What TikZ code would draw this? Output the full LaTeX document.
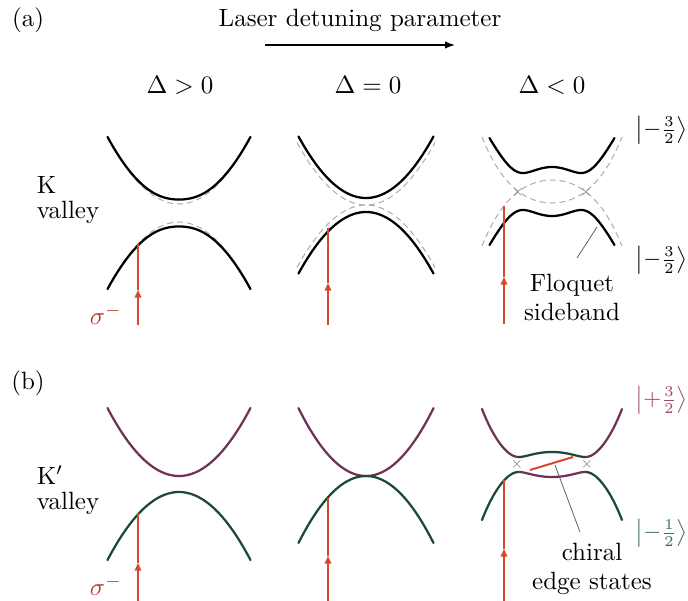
\documentclass[tikz,border=0pt]{standalone}
\usepackage{amsmath}
\usetikzlibrary{arrows.meta,positioning}
\definecolor{laserred}{RGB}{214,72,48}
\definecolor{sigred}{RGB}{182,62,46}
\definecolor{bandpurple}{RGB}{112,50,88}
\definecolor{bandgreen}{RGB}{28,74,52}
\definecolor{ketpurple}{RGB}{160,72,112}
\definecolor{ketgreen}{RGB}{58,108,88}

\begin{document}
\begin{tikzpicture}[x=0.4pt, y=-0.4pt,
    lbl/.style={inner sep=0pt, font=\fontsize{10}{10}\selectfont},
    ket/.style={inner sep=0pt, anchor=east, font=\fontsize{9}{9}\selectfont},
    note/.style={lbl, align=center, font=\fontsize{10}{11.6}\selectfont},
    band/.style={line width=0.9pt, line cap=round},
    bare/.style={gray!65, dash pattern=on 2.4pt off 1.6pt, line width=0.4pt},
    laser/.style={laserred, line width=0.6pt},
    pointer/.style={gray!70!black, line width=0.3pt},
    cross/.style={inner sep=0pt, gray, font=\fontsize{4}{4}\selectfont}
  ]
  \useasboundingbox (0,0) rectangle (688,601);

  % headings
  \node[lbl] (tag-a) at (28,20) {(a)};
  \node[lbl] (tag-b) at (28,383) {(b)};
  \node[lbl] (detuning) at (360,20) {Laser detuning parameter};
  \coordinate (detune-l) at (265,45);
  \coordinate (detune-r) at (455,45);
  \draw[line width=0.6pt, -{Latex[length=4pt,width=3pt]}] (detune-l) -- (detune-r);
  \node[lbl] (dpos) at (180,85) {$\Delta>0$};
  \node[lbl] (dzero) at (368,85) {$\Delta=0$};
  \node[lbl] (dneg) at (552,85) {$\Delta<0$};
  \node[lbl, align=left] (kvalley) at (68,200) {K\\valley};
  \node[lbl, align=left] (kpvalley) at (68,490) {K$'$\\valley};
  \node[lbl, text=sigred] (sigma-a) at (106,315) {$\sigma^-$};
  \node[lbl, text=sigred] (sigma-b) at (106,586) {$\sigma^-$};

  % (a) K valley, bare bands dashed, dressed bands solid
  \draw[bare] plot[domain=-71.5:71.5, samples=61, smooth] ({179+\x},{204-0.013*\x*\x});
  \draw[bare] plot[domain=-71.5:71.5, samples=61, smooth] ({179+\x},{222+0.013*\x*\x});
  \draw[band] plot[domain=-71.5:71.5, samples=61, smooth] ({179+\x},{213-sqrt(100+(9+0.013*\x*\x)^2)});
  \draw[band] plot[domain=-71.5:71.5, samples=61, smooth] ({179+\x},{213+sqrt(100+(9+0.013*\x*\x)^2)});

  \draw[bare] plot[domain=-69:69, samples=61, smooth] ({366+\x},{205-0.0131*\x*\x});
  \draw[bare] plot[domain=-69:69, samples=61, smooth] ({366+\x},{205+0.0131*\x*\x});
  \draw[band] plot[domain=-67.5:67.5, samples=61, smooth] ({366+\x},{198-0.0135*\x*\x});
  \draw[band] plot[domain=-67.5:67.5, samples=61, smooth] ({366+\x},{212+0.0135*\x*\x});

  \draw[bare] plot[domain=-1:1, samples=61, smooth] ({552+70*\x},{203-45.5*\x*\x-20.5*\x*\x*\x*\x});
  \draw[bare] plot[domain=-1:1, samples=61, smooth] ({552+70*\x},{180+45.5*\x*\x+20.5*\x*\x*\x*\x});
  \draw[band] plot[domain=-1:1, samples=81, smooth] ({552+62.5*\x},{191.5-sqrt(342.25+(76.9*\x*\x-10.6*\x*\x*\x*\x-16.06)^2)});
  \draw[band] plot[domain=-1:1, samples=81, smooth] ({552+62.5*\x},{191.5+sqrt(342.25+(76.9*\x*\x-10.6*\x*\x*\x*\x-16.06)^2)});
  \node[cross] (xa-l) at (518,192) {$\times$};
  \node[cross] (xa-r) at (586,192) {$\times$};

  \node[ket] (ket-a1) at (688,130) {$\bigl|-\tfrac{3}{2}\bigr\rangle$};
  \node[ket] (ket-a2) at (688,260) {$\bigl|-\tfrac{3}{2}\bigr\rangle$};
  \node[note] (floquet) at (572,297) {Floquet\\sideband};
  \coordinate (floquet-tip) at (597,227);
  \coordinate (floquet-end) at (577,258);
  \draw[pointer] (floquet-tip) -- (floquet-end);

  % (b) K' valley, coloured by spin character
  \draw[band, bandpurple] plot[domain=-71.5:71.5, samples=61, smooth] ({179+\x},{476-0.0133*\x*\x});
  \draw[band, bandgreen] plot[domain=-71.5:71.5, samples=61, smooth] ({179+\x},{492+0.0133*\x*\x});

  \draw[band, bandpurple] plot[domain=-67.5:67.5, samples=61, smooth] ({366+\x},{476-0.0149*\x*\x});
  \draw[band, bandgreen] plot[domain=-67.5:67.5, samples=61, smooth] ({366+\x},{476+0.0147*\x*\x});

  \draw[band, bandpurple] plot[domain=-1:-0.471, samples=31, smooth] ({552+70*\x},{464.5-sqrt(56.25+(39.3*\x*\x+25.7*\x*\x*\x*\x-10)^2)});
  \draw[band, bandpurple] plot[domain=0.471:1, samples=31, smooth] ({552+70*\x},{464.5-sqrt(56.25+(39.3*\x*\x+25.7*\x*\x*\x*\x-10)^2)});
  \draw[band, bandgreen] plot[domain=-0.471:0.471, samples=31, smooth] ({552+70*\x},{464.5-sqrt(56.25+(39.3*\x*\x+25.7*\x*\x*\x*\x-10)^2)});
  \draw[band, bandgreen] plot[domain=-1:-0.471, samples=31, smooth] ({552+70*\x},{464.5+sqrt(56.25+(39.3*\x*\x+25.7*\x*\x*\x*\x-10)^2)});
  \draw[band, bandgreen] plot[domain=0.471:1, samples=31, smooth] ({552+70*\x},{464.5+sqrt(56.25+(39.3*\x*\x+25.7*\x*\x*\x*\x-10)^2)});
  \draw[band, bandpurple] plot[domain=-0.471:0.471, samples=31, smooth] ({552+70*\x},{464.5+sqrt(56.25+(39.3*\x*\x+25.7*\x*\x*\x*\x-10)^2)});
  \node[cross] (xb-l) at (517,464.5) {$\times$};
  \node[cross] (xb-r) at (587,464.5) {$\times$};

  \coordinate (edge-l) at (530,470);
  \coordinate (edge-r) at (573,457);
  \draw[laser, line width=0.8pt] (edge-l) -- (edge-r);
  \node[note] (chiral) at (592,569) {chiral\\edge states};
  \coordinate (chiral-tip) at (555,465);
  \coordinate (chiral-end) at (580,532);
  \draw[pointer] (chiral-tip) -- (chiral-end);

  \node[ket, text=ketpurple] (ket-b1) at (688,400) {$\bigl|+\tfrac{3}{2}\bigr\rangle$};
  \node[ket, text=ketgreen] (ket-b2) at (688,533) {$\bigl|-\tfrac{1}{2}\bigr\rangle$};

  % pump photons
  \coordinate (a1-bot) at (138,325); \coordinate (a1-mid) at (138,290); \coordinate (a1-top) at (138,244);
  \coordinate (a2-bot) at (328,325); \coordinate (a2-mid) at (328,283); \coordinate (a2-top) at (328,228);
  \coordinate (a3-bot) at (504,324); \coordinate (a3-mid) at (504,277); \coordinate (a3-top) at (504,206);
  \coordinate (b1-bot) at (138,601); \coordinate (b1-mid) at (138,563); \coordinate (b1-top) at (138,513);
  \coordinate (b2-bot) at (328,601); \coordinate (b2-mid) at (328,556); \coordinate (b2-top) at (328,498);
  \coordinate (b3-bot) at (504,601); \coordinate (b3-mid) at (504,549); \coordinate (b3-top) at (504,480);
  \foreach \p in {a1,a2,a3,b1,b2,b3} {
    \draw[laser, -{Triangle[length=3pt,width=2.6pt]}] (\p-bot) -- (\p-mid);
    \draw[laser] (\p-mid) -- (\p-top);
  }
\end{tikzpicture}
\end{document}
